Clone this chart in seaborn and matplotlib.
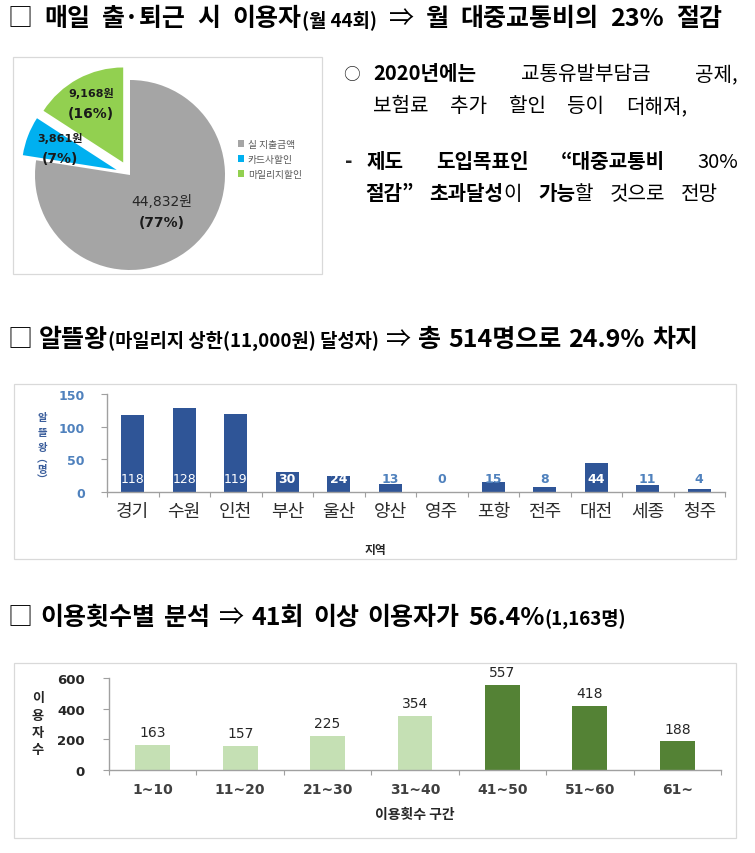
import numpy as np
import pandas as pd
import matplotlib
matplotlib.use('Agg')
import matplotlib.pyplot as plt
from matplotlib.patches import Rectangle, Patch
import seaborn as sns

# ---------------- data ----------------
pie_labels = ['실 지출금액', '카드사할인', '마일리지할인']
pie_values = [44832, 3861, 9168]

regions = ['경기', '수원', '인천', '부산', '울산', '양산', '영주', '포항', '전주', '대전', '세종', '청주']
region_counts = [118, 128, 119, 30, 24, 13, 0, 15, 8, 44, 11, 4]

usage_bins = ['1~10', '11~20', '21~30', '31~40', '41~50', '51~60', '61~']
usage_counts = [163, 157, 225, 354, 557, 418, 188]
usage_groups = ['41회 미만'] * 4 + ['41회 이상'] * 3

# ---------------- setup ----------------
W, H = 755, 854
sns.set_style('white')
KR = ['Noto Sans CJK KR', 'DejaVu Sans']
NUM = ['DejaVu Sans', 'Noto Sans CJK KR']
plt.rcParams['font.family'] = KR
fig = plt.figure(figsize=(W / 100, H / 100), dpi=100)
fig.patch.set_facecolor('white')
renderer = fig.canvas.get_renderer()


def fx(x):
    return x / W


def fy(y):
    return 1 - y / H


def add_axes_px(left, top, right, bottom):
    return fig.add_axes([left / W, 1 - bottom / H, (right - left) / W, (bottom - top) / H])


def box(left, top, right, bottom):
    fig.patches.append(Rectangle((fx(left), fy(bottom)), (right - left) / W, (bottom - top) / H,
                                 transform=fig.transFigure, fill=False,
                                 edgecolor='#D9D9D9', lw=0.9))


def text_width(s, size, weight, family):
    t = fig.text(0, 0, s, fontsize=size, fontweight=weight, family=family)
    w = t.get_window_extent(renderer).width
    t.remove()
    return w


def draw_line(words, x0, x1, base, color='black', justify=True, gap=8, family=KR):
    widths = [[text_width(t, s, w, family) for (t, s, w) in word] for word in words]
    totals = [sum(ws) for ws in widths]
    if justify and len(words) > 1:
        g = (x1 - x0 - sum(totals)) / (len(words) - 1)
    else:
        g = gap
    x = x0
    for word, ws in zip(words, widths):
        for (t, s, w), wd in zip(word, ws):
            fig.text(fx(x), fy(base), t, fontsize=s, fontweight=w, family=family,
                     color=color, ha='left', va='baseline')
            x += wd
        x += g


# ---------------- titles ----------------
B, S = 18, 13.5
draw_line([[('□', B, 'normal')], [('매일', B, 'bold')], [('출·퇴근', B, 'bold')], [('시', B, 'bold')],
           [('이용자', B, 'bold'), ('(월 44회)', S, 'bold')],
           [('⇒', B, 'normal')], [('월', B, 'bold')], [('대중교통비의', B, 'bold')],
           [('23%', B, 'bold')], [('절감', B, 'bold')]], 7, 722, 26)

draw_line([[('□', B, 'normal')], [('알뜰왕', B, 'bold'), ('(마일리지 상한(11,000원) 달성자)', S, 'bold')],
           [('⇒', B, 'normal')],
           [('총', B, 'bold')], [('514명으로', B, 'bold')], [('24.9%', B, 'bold')],
           [('차지', B, 'bold')]], 7, 698, 347)

draw_line([[('□', B, 'normal')], [('이용횟수별', B, 'bold')], [('분석', B, 'bold')],
           [('⇒', B, 'normal')], [('41회', B, 'bold')], [('이상', B, 'bold')],
           [('이용자가', B, 'bold')], [('56.4%', B, 'bold'), ('(1,163명)', S, 'bold')]],
          7, 626, 625)

# ---------------- right text block ----------------
T = 14.5
fig.text(fx(343), fy(80), '○', fontsize=12, ha='left', va='baseline')
draw_line([[('2020년에는', T, 'bold')], [('교통유발부담금', T, 'normal')], [('공제,', T, 'normal')]],
          373, 738, 80)
draw_line([[('보험료', T, 'normal')], [('추가', T, 'normal')], [('할인', T, 'normal')],
           [('등이', T, 'normal')], [('더해져,', T, 'normal')]], 373, 687, 112)
fig.text(fx(345), fy(168), '-', fontsize=T, fontweight='bold', ha='left', va='baseline')
draw_line([[('제도', T, 'bold')], [('도입목표인', T, 'bold')], [('“대중교통비', T, 'bold')],
           [('30%', T, 'normal')]], 367, 738, 168)
draw_line([[('절감”', T, 'bold')], [('초과달성', T, 'bold'), ('이', T, 'normal')],
           [('가능', T, 'bold'), ('할', T, 'normal')], [('것으로', T, 'normal')],
           [('전망', T, 'normal')]], 365, 718, 200)

# ---------------- pie ----------------
box(13, 58, 322, 275)
pie_ax = add_axes_px(0, 46, 260, 306)
pie_colors = ['#A5A5A5', '#00B0F0', '#92D050']
wedges, _ = pie_ax.pie(pie_values, colors=pie_colors, startangle=90, counterclock=False,
                       explode=[0, 0.15, 0.15], radius=1, wedgeprops=dict(linewidth=0))
a = 130 / 95
pie_ax.set_xlim(-a, a)
pie_ax.set_ylim(-a, a)
pie_ax.set_aspect('equal')
pie_ax.axis('off')

total = sum(pie_values)
dists = [0.51, 0.64, 0.71]
val_style = [dict(fontsize=10, fontweight='normal', color='#262626'),
             dict(fontsize=8, fontweight='bold', color='#1A1A1A'),
             dict(fontsize=8, fontweight='bold', color='#1A1A1A')]
for wdg, v, d, st in zip(wedges, pie_values, dists, val_style):
    mid = np.deg2rad((wdg.theta1 + wdg.theta2) / 2)
    cx, cy = wdg.center
    px, py = cx + d * wdg.r * np.cos(mid), cy + d * wdg.r * np.sin(mid)
    pie_ax.annotate(f'{v:,}원', (px, py), xytext=(0, 7.5), textcoords='offset points',
                    ha='center', va='center', family=NUM, **st)
    pie_ax.annotate(f'({v / total * 100:.0f}%)', (px, py), xytext=(0, -7),
                    textcoords='offset points', ha='center', va='center',
                    fontsize=10, fontweight='bold', color='#1A1A1A', family=NUM)

fig.legend(handles=[Patch(facecolor=c, edgecolor='none', label=l) for c, l in zip(pie_colors, pie_labels)],
           loc='upper left', bbox_to_anchor=(fx(238), fy(140)), frameon=False, fontsize=7,
           handlelength=0.65, handleheight=0.65, handletextpad=0.35, labelspacing=0.5,
           borderpad=0, borderaxespad=0, labelcolor='#595959')

# ---------------- chart 2 ----------------
box(14, 385, 736, 560)
ax2 = add_axes_px(107, 395, 725, 493)
df2 = pd.DataFrame({'region': regions, 'count': region_counts})
sns.barplot(data=df2, x='region', y='count', color='#2F5597', saturation=1, width=0.45,
            linewidth=0, ax=ax2)
ax2.set_ylim(0, 150)
ax2.set_xlim(-0.5, len(regions) - 0.5)
ax2.set_yticks([0, 50, 100, 150], ['0', '50', '100', '150'], fontfamily='DejaVu Sans',
               fontweight='bold')
ax2.set_xticks(np.arange(-0.5, len(regions)), minor=True)
sns.despine(ax=ax2)
for sp in ['left', 'bottom']:
    ax2.spines[sp].set_color('#A0A0A0')
    ax2.spines[sp].set_linewidth(1)
ax2.tick_params(axis='y', left=True, length=4.5, width=0.8, color='#A0A0A0', labelsize=9,
                labelcolor='#4F81BD', pad=11.5)
ax2.tick_params(axis='x', which='major', bottom=False, length=0, labelsize=13,
                labelcolor='#2B2B2B', pad=7)
ax2.tick_params(axis='x', which='minor', bottom=True, length=3.5, width=0.8, color='#A0A0A0')
ax2.set_ylabel('')
ax2.set_xlabel('지역', fontsize=8.5, fontweight='bold', color='#262626')
ax2.xaxis.set_label_coords(0.434, -0.52)
label_y = 21
for patch, v in zip(ax2.patches, region_counts):
    cx = patch.get_x() + patch.get_width() / 2
    big = v >= 24
    ax2.text(cx, label_y, f'{v}', ha='center', va='center', fontsize=9, family=NUM,
             color='white' if big else '#4F81BD',
             fontweight='normal' if v >= 100 else 'bold')

for ch, yy in zip(['알', '뜰', '왕', '︵', '명', '︶'], [418, 433, 448, 459, 470, 481]):
    fig.text(fx(42), fy(yy), ch, fontsize=7.5, fontweight='bold', color='#3B5E9C',
             ha='center', va='center')

# ---------------- chart 3 ----------------
box(14, 664, 736, 839)
ax3 = add_axes_px(109, 679, 721, 771)
df3 = pd.DataFrame({'bin': usage_bins, 'count': usage_counts, 'group': usage_groups})
sns.barplot(data=df3, x='bin', y='count', hue='group',
            palette={'41회 미만': '#C5E0B4', '41회 이상': '#548235'}, dodge=False, width=0.4,
            saturation=1, linewidth=0, legend=False, ax=ax3)
ax3.set_ylim(0, 600)
ax3.set_xlim(-0.5, len(usage_bins) - 0.5)
ax3.set_yticks([0, 200, 400, 600], ['0', '200', '400', '600'], fontfamily='DejaVu Sans',
               fontweight='bold')
ax3.set_xticks(range(len(usage_bins)), usage_bins, fontfamily='DejaVu Sans', fontweight='bold')
ax3.set_xticks(np.arange(-0.5, len(usage_bins)), minor=True)
sns.despine(ax=ax3)
for sp in ['left', 'bottom']:
    ax3.spines[sp].set_color('#A0A0A0')
    ax3.spines[sp].set_linewidth(1)
ax3.tick_params(axis='y', left=True, length=4, width=0.8, color='#A0A0A0', labelsize=9.5,
                labelcolor='#262626', pad=13.5)
ax3.tick_params(axis='x', which='major', bottom=False, length=0, labelsize=10,
                labelcolor='#404040', pad=9)
ax3.tick_params(axis='x', which='minor', bottom=True, length=3.5, width=0.8, color='#A0A0A0')
ax3.set_ylabel('')
ax3.set_xlabel('이용횟수 구간', fontsize=10, fontweight='bold', color='#262626')
ax3.xaxis.set_label_coords(0.5, -0.40)
for cont in ax3.containers:
    ax3.bar_label(cont, fmt='%g', padding=4, fontsize=10, color='#262626', family=NUM)

for ch, yy in zip(['이', '용', '자', '수'], [698, 716, 733, 750]):
    fig.text(fx(38), fy(yy), ch, fontsize=9.5, fontweight='bold', color='#262626',
             ha='center', va='center')

fig.savefig('out.png', dpi=100, facecolor='white')
